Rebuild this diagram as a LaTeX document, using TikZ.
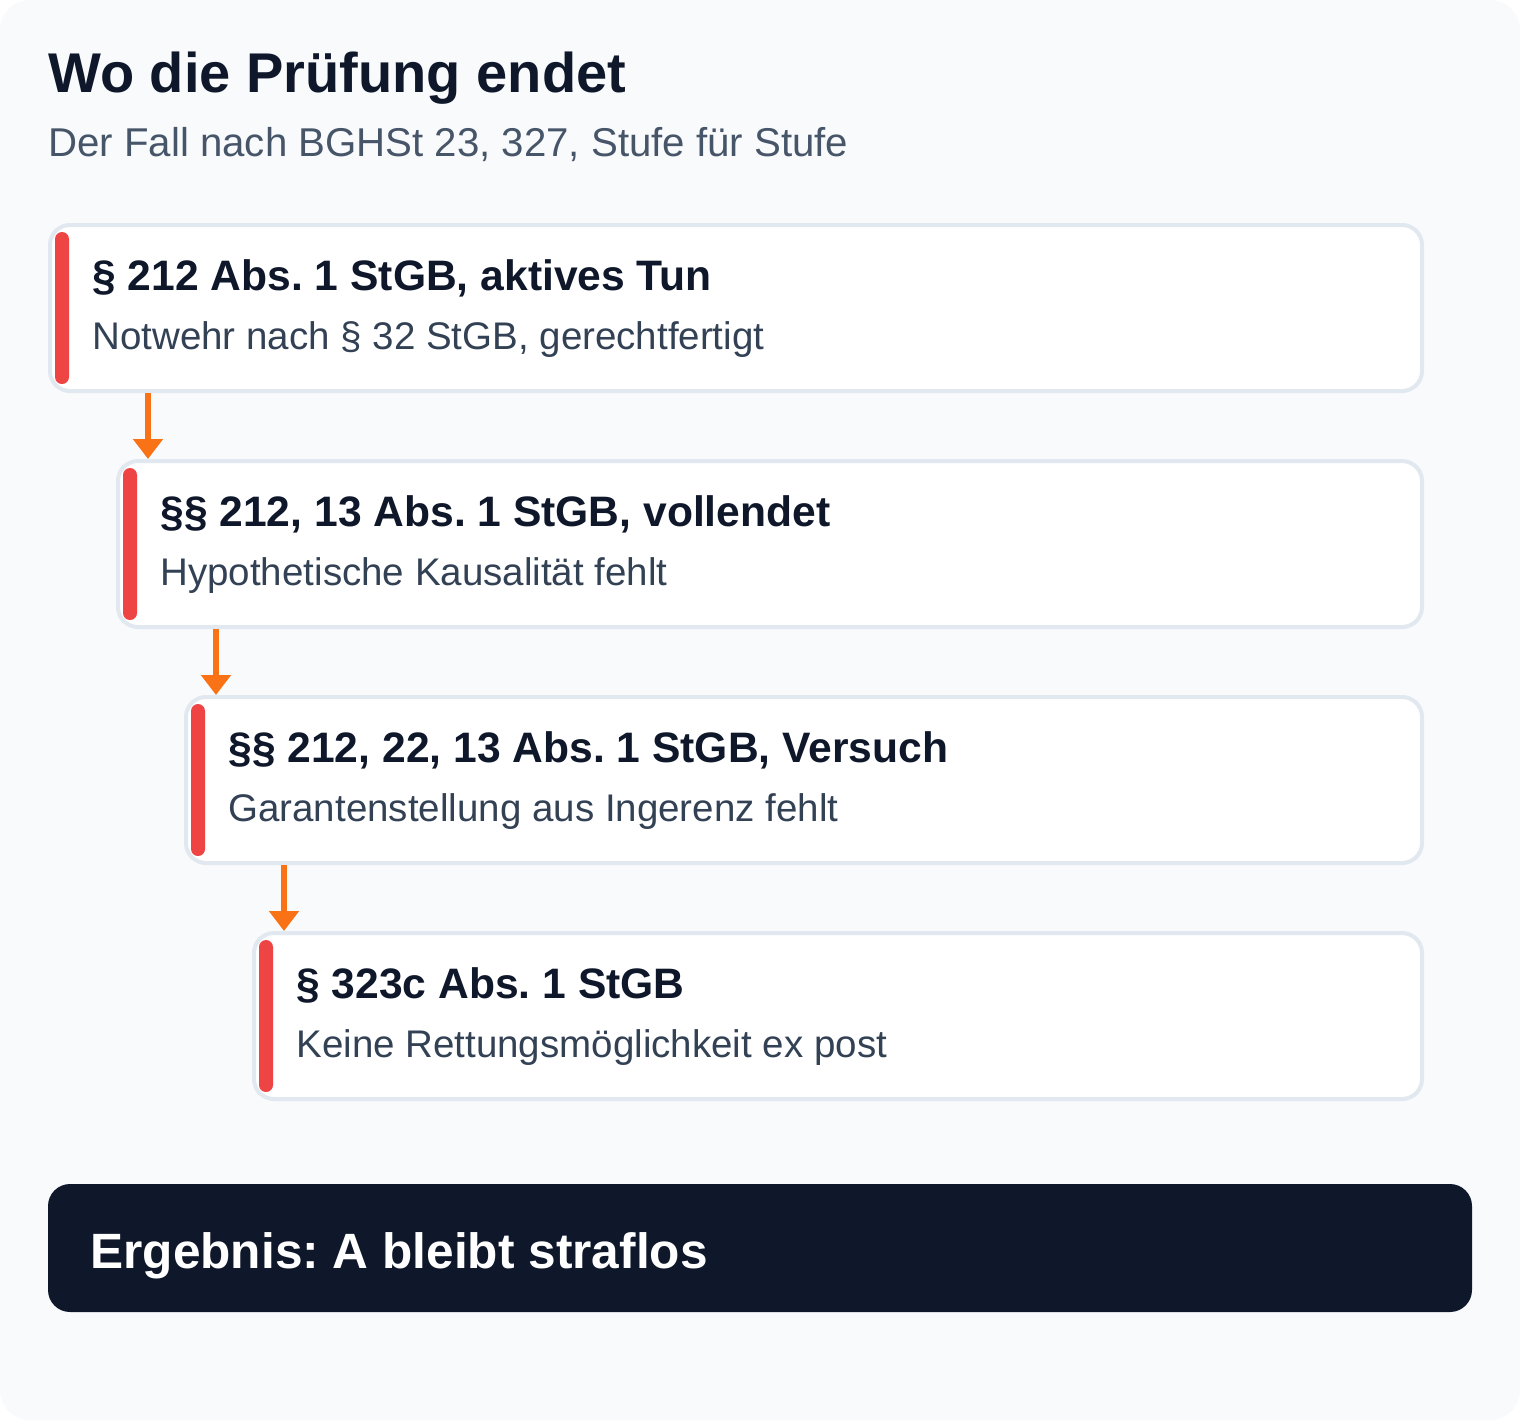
\documentclass[tikz,border=0pt]{standalone}
\usepackage{fontspec}
\setmainfont{Liberation Sans}
\usetikzlibrary{arrows.meta}
\definecolor{bgc}{HTML}{F8FAFC}
\definecolor{ink}{HTML}{0F172A}
\definecolor{subc}{HTML}{475569}
\definecolor{bodyc}{HTML}{334155}
\definecolor{bordc}{HTML}{E2E8F0}
\definecolor{redc}{HTML}{EF4444}
\definecolor{orc}{HTML}{F97316}
\frenchspacing
\begin{document}
\frenchspacing
\begin{tikzpicture}[x=0.5pt,y=-0.5pt,
  card/.style={draw=bordc, line width=2pt, fill=white, rounded corners=10pt, anchor=north west,
    minimum height=83pt, inner sep=0pt, outer sep=0pt},
  redbar/.style={fill=redc, rounded corners=3.5pt, anchor=north west, minimum width=7pt,
    minimum height=76pt, inner sep=0pt, outer sep=0pt},
  head/.style={anchor=base west, inner sep=0pt, text=ink, font=\fontsize{21.3}{25}\selectfont\bfseries},
  body/.style={anchor=base west, inner sep=0pt, text=bodyc, font=\fontsize{19.25}{23}\selectfont},
  arr/.style={draw=orc, fill=orc, line width=3pt, -{Triangle[length=10pt,width=14.5pt]}}
]
\useasboundingbox (0,0) rectangle (1520,1420);
\fill[bgc, rounded corners=15pt] (0,0) rectangle (1520,1420);

\node[anchor=base west, inner sep=0pt, text=ink, font=\fontsize{28}{34}\selectfont\bfseries] (title) at (48,92) {Wo die Prüfung endet};
\node[anchor=base west, inner sep=0pt, text=subc, font=\fontsize{20.1}{24}\selectfont] (subtitle) at (48,156) {Der Fall nach BGHSt 23, 327, Stufe für Stufe};

% cards
\node[card, minimum width=686pt] (c1) at (50,225) {};
\node[redbar] (r1) at (55,232) {};
\node[head] (h1) at (92,290) {§ 212 Abs. 1 StGB, aktives Tun};
\node[body] (s1) at (92,349) {Notwehr nach § 32 StGB, gerechtfertigt};

\node[card, minimum width=652pt] (c2) at (118,461) {};
\node[redbar] (r2) at (123,468) {};
\node[head] (h2) at (160,526) {§§ 212, 13 Abs. 1 StGB, vollendet};
\node[body] (s2) at (160,585) {Hypothetische Kausalität fehlt};

\node[card, minimum width=618pt] (c3) at (186,697) {};
\node[redbar] (r3) at (191,704) {};
\node[head] (h3) at (228,762) {§§ 212, 22, 13 Abs. 1 StGB, Versuch};
\node[body] (s3) at (228,821) {Garantenstellung aus Ingerenz fehlt};

\node[card, minimum width=584pt] (c4) at (254,933) {};
\node[redbar] (r4) at (259,940) {};
\node[head] (h4) at (296,998) {§ 323c Abs. 1 StGB};
\node[body] (s4) at (296,1057) {Keine Rettungsmöglichkeit ex post};

% arrows
\coordinate (a1s) at ([xshift=49pt,yshift=-1pt]c1.south west);
\path ([yshift=1pt]c2.north) coordinate (t2);
\draw[arr] (a1s) -- (a1s |- t2);
\coordinate (a2s) at ([xshift=49pt,yshift=-1pt]c2.south west);
\path ([yshift=1pt]c3.north) coordinate (t3);
\draw[arr] (a2s) -- (a2s |- t3);
\coordinate (a3s) at ([xshift=49pt,yshift=-1pt]c3.south west);
\path ([yshift=1pt]c4.north) coordinate (t4);
\draw[arr] (a3s) -- (a3s |- t4);

% result
\node[fill=ink, rounded corners=11pt, anchor=north west, minimum width=712pt, minimum height=64pt,
  inner sep=0pt, outer sep=0pt] (res) at (48,1184) {};
\node[anchor=base west, inner sep=0pt, text=white, font=\fontsize{24.8}{30}\selectfont\bfseries] (rt) at (90,1268) {Ergebnis: A bleibt straflos};
\end{tikzpicture}
\end{document}
